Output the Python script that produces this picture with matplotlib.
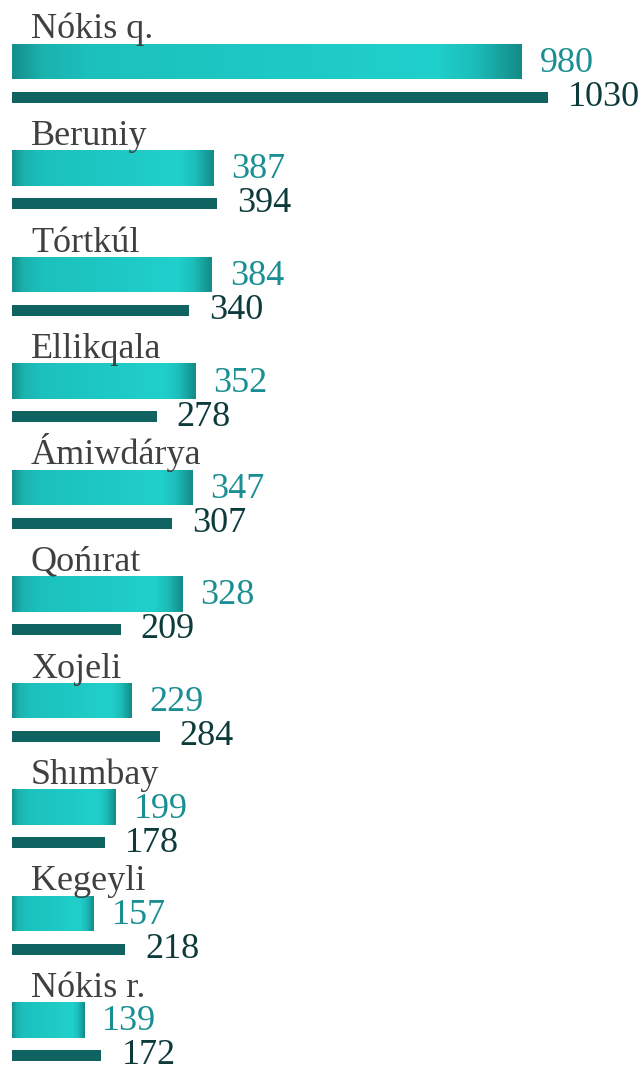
import matplotlib
matplotlib.use("Agg")
import matplotlib.pyplot as plt
import numpy as np
from matplotlib.colors import LinearSegmentedColormap

districts = ["Nókis q.", "Beruniy", "Tórtkúl", "Ellikqala", "Ámiwdárya",
             "Qońırat", "Xojeli", "Shımbay", "Kegeyli", "Nókis r."]
values_a = [980, 387, 384, 352, 347, 328, 229, 199, 157, 139]
values_b = [1030, 394, 340, 278, 307, 209, 284, 178, 218, 172]

plt.rcParams["font.family"] = ["Liberation Serif", "DejaVu Serif"]

W, H = 640, 1069
fig = plt.figure(figsize=(W / 100, H / 100), dpi=100)
ax = fig.add_axes([0, 0, 1, 1])
ax.axis("off")

# pixel-like layout: x in data units, y in row units (pixels)
px_per_unit = 0.52
x_left = -12 / px_per_unit
x_right = (W - 12) / px_per_unit

row_step = 106.5
thick_c = 61.5
thin_c = 97.0
thick_h = 36
thin_h = 11

grad_cmap = LinearSegmentedColormap.from_list("tealbar", [
    (0.00, "#168f8c"),
    (0.06, "#1bb3af"),
    (0.16, "#1cc1bd"),
    (0.50, "#1ec8c4"),
    (0.83, "#20d0cc"),
    (0.91, "#1cbdb9"),
    (1.00, "#138b88"),
])
grad = np.linspace(0, 1, 256).reshape(1, -1)

n = len(districts)
ya = [thick_c + row_step * i for i in range(n)]
yb = [thin_c + row_step * i for i in range(n)]

bars_a = ax.barh(ya, values_a, height=thick_h, left=0, color="none", edgecolor="none")
ax.barh(yb, values_b, height=thin_h, left=0, color="#0f6461", edgecolor="none")

for bar in bars_a:
    x0, y0 = bar.get_x(), bar.get_y()
    w, h = bar.get_width(), bar.get_height()
    im = ax.imshow(grad, extent=(x0, x0 + w, y0 + h, y0), cmap=grad_cmap,
                   aspect="auto", interpolation="bicubic", zorder=2)
    im.set_clip_path(bar)

gap = 18 / px_per_unit
for i, name in enumerate(districts):
    ax.text(31 / px_per_unit + x_left, ya[i] - thick_h / 2 - 5, name,
            fontsize=26, color="#404040", va="baseline", ha="left")
    ax.text(values_a[i] + gap, ya[i] + 2, str(values_a[i]),
            fontsize=26, color="#1a8f93", va="center", ha="left")
    ax.text(values_b[i] + 20 / px_per_unit, yb[i] + 0.5, str(values_b[i]),
            fontsize=26, color="#0d3b3b", va="center", ha="left")

ax.set_xlim(x_left, x_right)
ax.set_ylim(H, 0)

fig.savefig("out.png", dpi=100)
